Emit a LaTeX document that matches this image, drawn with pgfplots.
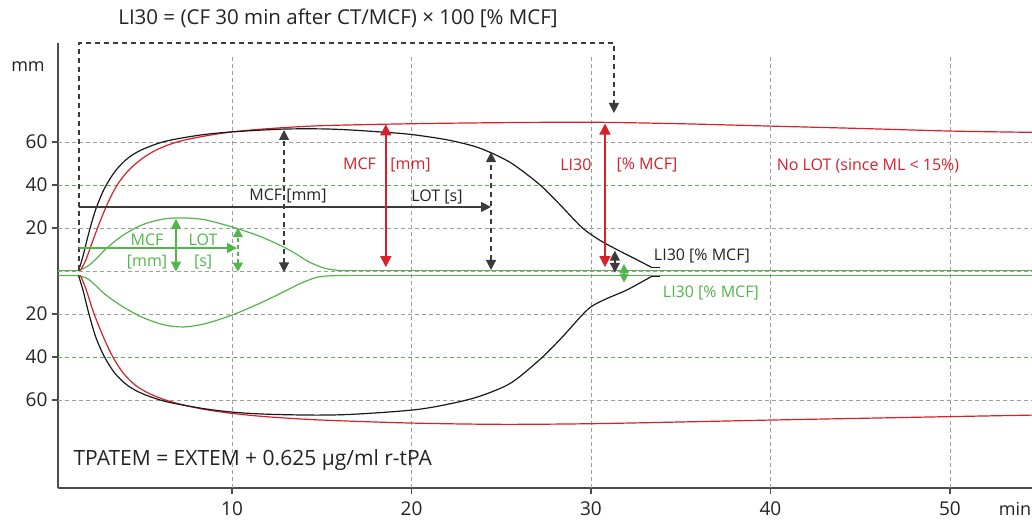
\documentclass[border=0pt]{standalone}
\usepackage{fontspec}
\setmainfont{Open Sans}
\usepackage{pgfplots}
\pgfplotsset{compat=1.18}
\usetikzlibrary{arrows.meta}
\definecolor{cred}{RGB}{215,32,42}
\definecolor{cgreen}{RGB}{82,182,76}
\definecolor{cgrid}{RGB}{158,158,158}
\definecolor{ctext}{RGB}{35,35,35}
\definecolor{cblk}{RGB}{25,25,25}
\begin{document}
\begin{tikzpicture}
\begin{axis}[
  at={(58pt,31pt)}, anchor=south west, scale only axis,
  width=974pt, height=445pt,
  xmin=0.306, xmax=54.57, ymin=-100.9, ymax=106.05,
  axis x line*=bottom, axis y line*=left,
  axis line style={-, line width=1.6pt, color=black!70},
  xtick={10,20,30,40,50},
  ytick={-60,-40,-20,20,40,60}, yticklabels={60,40,20,20,40,60},
  tick style={line width=1.2pt, black!70}, major tick length=6pt, tick align=outside,
  ticklabel style={font=\fontsize{19}{22}\selectfont, text=ctext},
  xticklabel style={yshift=-4pt},
  yticklabel style={xshift=-1pt},
  /pgf/number format/assume math mode=true,
  clip=false,
]
% grid
\pgfplotsinvokeforeach{10,20,30,40,50}{
  \draw[cgrid, line width=0.9pt, dash pattern=on 4pt off 3pt] (axis cs:#1,-100.9) -- (axis cs:#1,100.5);
}
\pgfplotsinvokeforeach{-60,-20,0,20,60}{
  \draw[cgrid, line width=0.9pt, dash pattern=on 4pt off 3pt] (axis cs:0.306,#1) -- (axis cs:54.57,#1);
}
\pgfplotsinvokeforeach{-40,40}{
  \draw[cgreen, line width=0.9pt, dash pattern=on 4pt off 3pt] (axis cs:0.306,#1) -- (axis cs:54.57,#1);
}
% green traces
\addplot[cgreen, line width=1.2pt, smooth] coordinates {
(0.306,0.2)(1.0,0.2)(1.45,0.3)(2.0,2.5)(2.5,6.2)(3.0,10.5)(3.9,16.5)(5.0,21.5)(6.2,24.2)(7.3,24.7)(8.5,23.8)(10,20.5)(11.5,16.3)(12.8,11.5)(13.6,7.8)(14.3,4.2)(15.2,1.2)(16,0.3)(17,0.2)};
\addplot[cgreen, line width=1.2pt] coordinates {(17,0.2)(54.57,0.2)};
\addplot[cgreen, line width=1.2pt, smooth] coordinates {
(0.306,-2.1)(1.0,-2.1)(1.45,-2.2)(2.0,-3.8)(2.5,-7.5)(3.0,-11.3)(3.9,-16.5)(5.0,-21.5)(6.2,-25)(7.3,-26)(8.5,-24.5)(10,-20.5)(11.5,-15.2)(12.8,-10)(13.8,-5.8)(14.7,-3)(15.5,-2.2)(16.5,-2.1)};
\addplot[cgreen, line width=1.2pt] coordinates {(16.5,-2.1)(54.57,-2.1)};
% red traces
\addplot[cred, line width=1.2pt, smooth] coordinates {
(1.55,0.2)(1.85,5)(2.2,13)(2.6,22)(3.1,32)(3.6,40)(4.2,46.5)(4.9,51.7)(5.6,55.5)(6.4,58.5)(7.3,60.8)(8.5,62.8)(10,64.7)(12,66.2)(15,67.6)(20,68.5)(25,69)(30,69.2)(35,68.5)(40,67.4)(45,66.3)(50,65.1)(54.57,64.5)};
\addplot[cred, line width=1.2pt, smooth] coordinates {
(1.55,-2)(1.85,-8)(2.3,-19.5)(2.8,-30)(3.3,-39)(3.9,-47)(4.6,-53)(5.4,-57)(6.3,-60)(7.3,-62.3)(8.5,-64.4)(10,-66.2)(12,-67.8)(15,-69.3)(20,-70.7)(25,-71.3)(30,-71)(35,-70.2)(40,-69.3)(45,-68.5)(50,-67.7)(54.57,-67)};
% black traces
\addplot[cblk, line width=1.2pt, smooth] coordinates {
(1.45,0.1)(1.7,7)(2.0,17)(2.4,28.5)(2.9,38.5)(3.5,46.5)(4.2,52.5)(5.0,56.5)(6.27,60.3)(8.2,63.2)(10,64.7)(12.8,66)(15,66.1)(16.6,65.6)(18.4,64.6)(20,63.5)(22,61)(23.5,58)(24.43,55)(25.5,50.5)(26.5,44.5)(27.3,39)(28.2,31.5)(29.4,21)(30,17)(30.7,13.3)(31.6,9.3)(32.5,5.5)(33.4,1.6)};
\addplot[cblk, line width=1.2pt] coordinates {(33.4,1.6)(33.85,1.6)};
\addplot[cblk, line width=1.2pt, smooth] coordinates {
(1.45,-2)(1.7,-9)(2.0,-19)(2.4,-30.5)(2.9,-40)(3.5,-47.8)(4.2,-53.3)(5.0,-57)(6.27,-60.6)(8.2,-63.7)(10,-65.6)(12,-66.6)(14.8,-67)(17,-66.5)(20.5,-64.2)(23.3,-59.5)(25.1,-54)(26,-49.3)(27.3,-40)(28.4,-30.7)(29.8,-18)(30.7,-13.5)(32,-8.8)(33.4,-2.4)};
\addplot[cblk, line width=1.2pt] coordinates {(33.4,-2.4)(33.85,-2.4)};
% annotations: black dashed frame
\draw[cblk!85, line width=1.3pt, dash pattern=on 5pt off 4pt, -{Triangle[length=10pt,width=10pt]}]
  (axis cs:1.47,0.3) -- (axis cs:1.47,106.05) -- (axis cs:31.28,106.05) -- (axis cs:31.28,73.5);
\draw[cblk!85, line width=1.3pt, -{Triangle[length=10pt,width=10pt]}] (axis cs:1.5,29.8) -- (axis cs:24.43,29.8);
\draw[cblk!85, line width=1.3pt, dash pattern=on 5pt off 4pt, {Triangle[length=10pt,width=10pt]}-{Triangle[length=10pt,width=10pt]}] (axis cs:12.9,-0.6) -- (axis cs:12.9,65.6);
\draw[cblk!85, line width=1.3pt, dash pattern=on 5pt off 4pt, {Triangle[length=10pt,width=10pt]}-{Triangle[length=10pt,width=10pt]}] (axis cs:24.43,0.5) -- (axis cs:24.43,55.3);
\draw[cblk!85, line width=1.3pt, {Triangle[length=10pt,width=10pt]}-{Triangle[length=10pt,width=10pt]}] (axis cs:31.33,-0.8) -- (axis cs:31.33,9.5);
% red arrows
\draw[cred, line width=1.5pt, {Triangle[length=11pt,width=11pt]}-{Triangle[length=11pt,width=11pt]}] (axis cs:18.57,1.8) -- (axis cs:18.57,68.2);
\draw[cred, line width=1.5pt, {Triangle[length=11pt,width=11pt]}-{Triangle[length=11pt,width=11pt]}] (axis cs:30.78,1.8) -- (axis cs:30.78,68.6);
% green arrows
\draw[cgreen, line width=1.5pt, -{Triangle[length=10pt,width=10pt]}] (axis cs:1.5,10.7) -- (axis cs:10.28,10.7);
\draw[cgreen, line width=1.5pt, {Triangle[length=10pt,width=10pt]}-{Triangle[length=10pt,width=10pt]}] (axis cs:6.88,-0.3) -- (axis cs:6.88,24.2);
\draw[cgreen, line width=1.5pt, dash pattern=on 4pt off 3pt, {Triangle[length=9pt,width=10pt]}-{Triangle[length=9pt,width=10pt]}] (axis cs:10.33,-0.3) -- (axis cs:10.33,20);
\draw[cgreen, line width=1.3pt, {Triangle[length=9pt,width=9pt]}-{Triangle[length=9pt,width=9pt]}] (axis cs:31.84,-5.4) -- (axis cs:31.84,3.3);
% labels
\begin{scope}[every node/.style={font=\fontsize{16}{19}\selectfont, inner sep=1pt}]
\node[text=ctext] at (axis cs:13.12,34.9) {MCF [mm]};
\node[text=ctext] at (axis cs:21.42,34.4) {LOT [s]};
\node[text=cgreen] at (axis cs:5.27,14.4) {MCF};
\node[text=cgreen] at (axis cs:5.27,4.0) {[mm]};
\node[text=cgreen] at (axis cs:8.39,14.4) {LOT};
\node[text=cgreen] at (axis cs:8.39,4.0) {[s]};
\node[text=cred] at (axis cs:18.63,49.3) {MCF\hspace{0.9em}[mm]};
\node[text=cred] at (axis cs:29.16,49.3) {LI30};
\node[text=cred] at (axis cs:33.12,49.3) {[\% MCF]};
\node[text=cred] at (axis cs:45.43,48.8) {No LOT (since ML < 15\%)};
\node[text=ctext] at (axis cs:36.18,7.0) {LI30 [\% MCF]};
\node[text=cgreen] at (axis cs:36.68,-10.2) {LI30 [\% MCF]};
\end{scope}
\end{axis}
\node[text=ctext, font=\fontsize{20.5}{24}\selectfont] at (338pt,501pt) {LI30 = (CF 30 min after CT/MCF) × 100 [\% MCF]};
\node[text=ctext, font=\fontsize{21}{24}\selectfont, anchor=west] at (70pt,59pt) {TPATEM = EXTEM + 0.625 µg/ml r-tPA};
\node[text=ctext, font=\fontsize{18}{22}\selectfont] at (28pt,452pt) {mm};
\node[text=ctext, font=\fontsize{18}{22}\selectfont] at (1015pt,10pt) {min};
\pgfresetboundingbox
\path (0,0) rectangle (1032pt,519pt);
\end{tikzpicture}
\end{document}
